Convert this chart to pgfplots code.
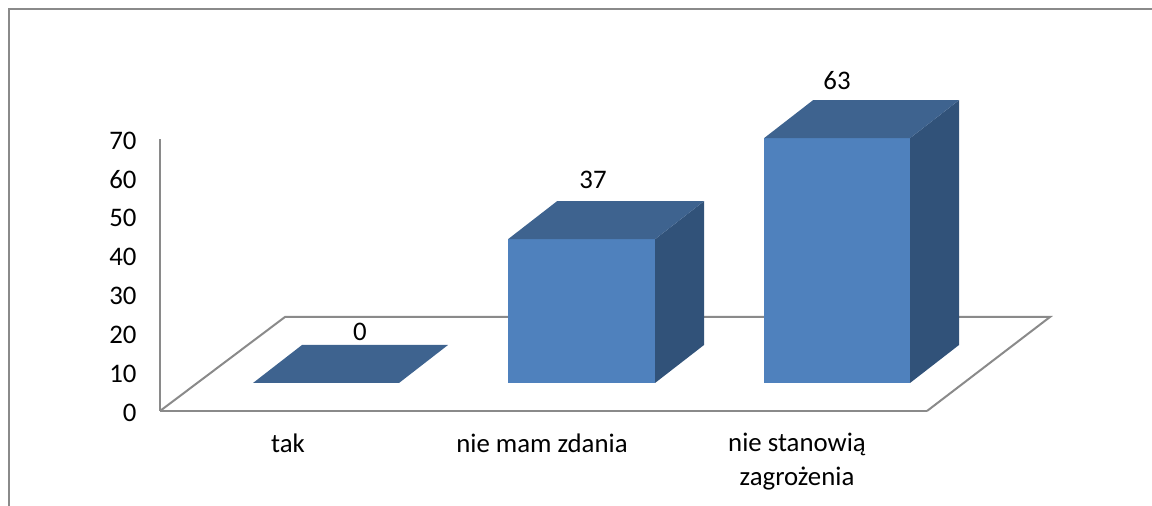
\documentclass[border=0pt]{standalone}
\usepackage{fontspec}
\setmainfont{Carlito}
\usepackage{pgfplots}
\pgfplotsset{compat=1.18}
\definecolor{frontc}{HTML}{4F81BD}
\definecolor{topc}{HTML}{3E638F}
\definecolor{sidec}{HTML}{315279}
\definecolor{linec}{HTML}{8A8A8A}
\pgfplotsset{
  face/.style={fill=#1, draw=none, yshift=28pt, forget plot},
}
\begin{document}
\begin{tikzpicture}
% page is 1152x506, axis origin sits at pixel (160,411)
\path[use as bounding box] (-160pt,-95pt) rectangle (992pt,411pt);
\begin{axis}[
  at={(0pt,0pt)}, anchor=south west,
  scale only axis, width=767pt, height=272pt,
  xmin=160, xmax=927, ymin=0, ymax=70,
  clip=false,
  axis x line=bottom, axis y line=left,
  axis line style={-, draw=linec, line width=2pt},
  major tick length=0pt,
  ytick={0,10,...,70},
  xtick={288,542,797},
  xticklabels={tak,nie mam zdania,{nie stanowią\\zagrożenia}},
  /pgf/number format/assume math mode=true,
  tick label style={font=\fontsize{26.8}{34}\selectfont, text=black},
  x tick label style={align=center, anchor=north, yshift=-19pt},
  y tick label style={anchor=east, xshift=-20pt, yshift=-1.5pt},
]
% outer frame, cut by the page on the right and bottom
\addplot[draw=linec, line width=2pt, forget plot] coordinates {(9,-24.45) (9,103.4) (1152,103.4)};
% floor
\addplot[draw=linec, line width=2pt, forget plot] coordinates {(160,0) (285,24.2) (1050,24.2) (927,0)};
% tak
\addplot[face=topc] coordinates {(253,0) (399,0) (448,9.78) (302,9.78)} --cycle;
% nie mam zdania
\addplot[face=frontc] coordinates {(508,0) (655,0) (655,37) (508,37)} --cycle;
\addplot[face=sidec] coordinates {(655,0) (704,9.78) (704,46.78) (655,37)} --cycle;
\addplot[face=topc] coordinates {(508,37) (655,37) (704,46.78) (557,46.78)} --cycle;
% nie stanowia zagrozenia
\addplot[face=frontc] coordinates {(764,0) (910,0) (910,63) (764,63)} --cycle;
\addplot[face=sidec] coordinates {(910,0) (959,9.78) (959,72.78) (910,63)} --cycle;
\addplot[face=topc] coordinates {(764,63) (910,63) (959,72.78) (813,72.78)} --cycle;
% value labels
\addplot[draw=none, forget plot, point meta=explicit,
  nodes near coords,
  nodes near coords style={anchor=center, text=black, font=\fontsize{26.8}{34}\selectfont,
    /pgf/number format/assume math mode=true}]
  coordinates {(360,20.4) [0] (593,59.4) [37] (837,85.1) [63]};
\end{axis}
\end{tikzpicture}
\end{document}
